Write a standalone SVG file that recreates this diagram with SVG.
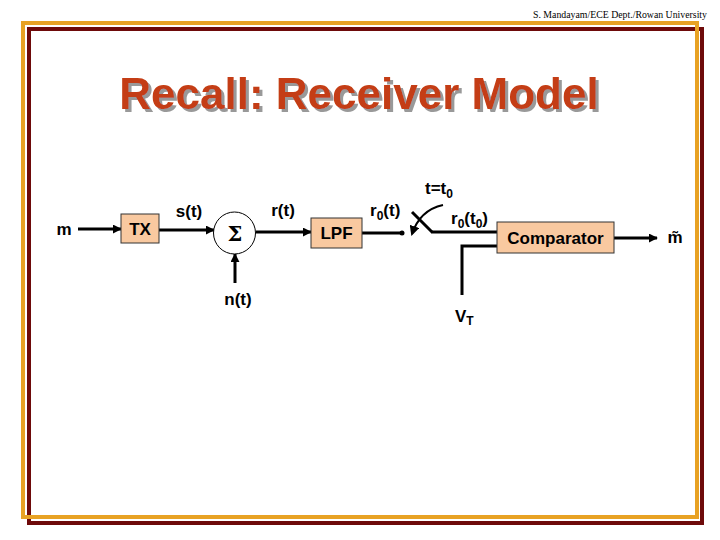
<svg xmlns="http://www.w3.org/2000/svg" width="720" height="540" viewBox="0 0 720 540">
<style>
.lbl{font-family:"Liberation Sans",Arial,sans-serif;font-weight:bold;font-size:17px;fill:#000}
.sub{font-size:12px}
.box{fill:#F9C9A0;stroke:#333;stroke-width:1}
.wire{fill:none;stroke:#000;stroke-width:3}
.title{font-family:"Liberation Sans",Arial,sans-serif;font-weight:bold;font-size:44px}
</style>
<defs>
<filter id="shadow" x="-5%" y="-20%" width="110%" height="150%">
<feDropShadow dx="3" dy="3" stdDeviation="0.4" flood-color="#999" flood-opacity="1"/>
</filter>
<marker id="ah" viewBox="0 0 10 10" refX="9" refY="5" markerWidth="3" markerHeight="3" orient="auto" markerUnits="strokeWidth">
<path d="M0,0 L10,5 L0,10 Z" fill="#000"/>
</marker>
<marker id="ah2" viewBox="0 0 10 10" refX="8" refY="5" markerWidth="5" markerHeight="5" orient="auto" markerUnits="strokeWidth">
<path d="M0,0 L10,5 L0,10 Z" fill="#000"/>
</marker>
</defs>
<rect width="720" height="540" fill="#fff"/>
<g id="frame">
<rect x="29" y="29" width="673" height="494" fill="none" stroke="#6E0A0A" stroke-width="4"/>
<rect x="23" y="23" width="674" height="494" fill="none" stroke="#E8A224" stroke-width="4"/>
</g>
<text x="707" y="18" text-anchor="end" font-family="Liberation Serif,'Times New Roman',serif" font-size="10.5" textLength="174" lengthAdjust="spacingAndGlyphs">S. Mandayam/ECE Dept./Rowan University</text>
<g id="title">
<text class="title" x="359" y="109" text-anchor="middle" fill="#C43C12" filter="url(#shadow)">Recall: Receiver Model</text>
</g>
<g id="connectors">
<line class="wire" x1="78" y1="229" x2="121" y2="229" marker-end="url(#ah)"/>
<line class="wire" x1="159" y1="230" x2="214" y2="230" marker-end="url(#ah)"/>
<line class="wire" x1="235" y1="283" x2="235" y2="254" marker-end="url(#ah)"/>
<line class="wire" x1="256" y1="232" x2="311" y2="232" marker-end="url(#ah)"/>
<line class="wire" x1="362" y1="233" x2="402" y2="233"/>
<circle cx="402" cy="233" r="2.5" fill="#000"/>
<line class="wire" x1="412" y1="212" x2="432" y2="232"/>
<path d="M443,205 Q420,210 412,234" fill="none" stroke="#000" stroke-width="2" marker-end="url(#ah2)"/>
<line class="wire" x1="431" y1="232" x2="497" y2="232"/>
<path class="wire" d="M462,295 V246 H497"/>
<line class="wire" x1="614" y1="238" x2="657" y2="238" marker-end="url(#ah)"/>
</g>
<g id="m">
<text class="lbl" x="64" y="235" text-anchor="middle">m</text>
</g>
<g id="tx">
<rect class="box" x="121" y="214" width="38" height="29"/>
<text class="lbl" x="140" y="235" text-anchor="middle">TX</text>
</g>
<g id="sum">
<circle cx="234.5" cy="233" r="21" fill="#fff" stroke="#000" stroke-width="1"/>
<text x="235" y="241" text-anchor="middle" font-family="'DejaVu Serif','Liberation Serif',serif" font-weight="bold" font-size="21">Σ</text>
</g>
<g id="lpf">
<rect class="box" x="311" y="218" width="51" height="30"/>
<text class="lbl" x="336.5" y="239" text-anchor="middle">LPF</text>
</g>
<g id="comparator">
<rect class="box" x="497" y="222" width="117" height="31"/>
<text class="lbl" x="555.5" y="244" text-anchor="middle">Comparator</text>
</g>
<g id="labels">
<text class="lbl" x="189" y="217" text-anchor="middle">s(t)</text>
<text class="lbl" x="283" y="216" text-anchor="middle">r(t)</text>
<text class="lbl" x="238" y="305" text-anchor="middle">n(t)</text>
<text class="lbl" x="370" y="216">r<tspan class="sub" dy="4">0</tspan><tspan dy="-4">(t)</tspan></text>
<text class="lbl" x="425" y="194">t=t<tspan class="sub" dy="4">0</tspan></text>
<text class="lbl" x="451" y="224">r<tspan class="sub" dy="4">0</tspan><tspan dy="-4">(t</tspan><tspan class="sub" dy="4">0</tspan><tspan dy="-4">)</tspan></text>
<text class="lbl" x="455" y="322">V<tspan class="sub" dy="3">T</tspan></text>
<text class="lbl" x="675" y="243" text-anchor="middle">m̃</text>
</g>
</svg>
